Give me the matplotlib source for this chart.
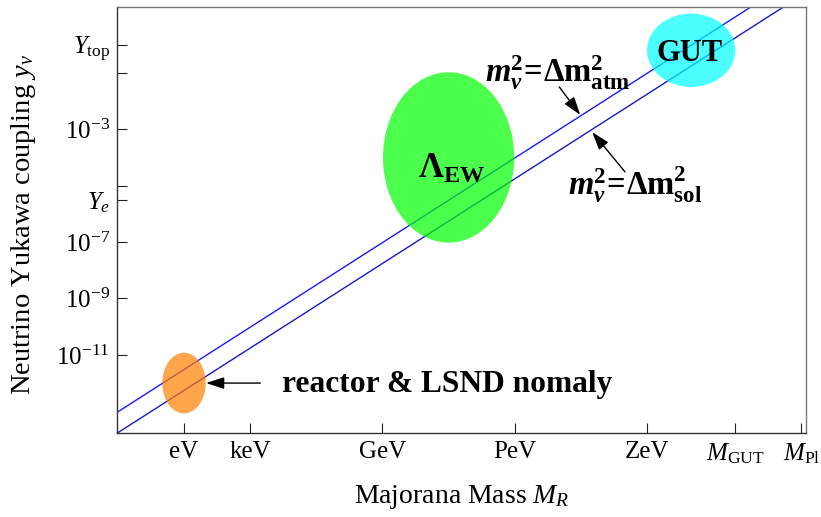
import matplotlib
matplotlib.use("Agg")
import matplotlib.pyplot as plt
from matplotlib.patches import Ellipse

plt.rcParams.update({
    "font.family": ["Liberation Serif", "DejaVu Serif"],
    "mathtext.fontset": "custom",
    "mathtext.rm": "Liberation Serif",
    "mathtext.it": "Liberation Serif:italic",
    "mathtext.bf": "Liberation Serif:bold",
    "mathtext.bfit": "Liberation Serif:italic:bold",
})

# ---- data (log10 units: mass in eV, dimensionless Yukawa) ----
line_logM = [-3.04, 28.21]
atm_logy = [-13.04, 2.585]
sol_logy = [-13.78, 1.845]

blob_names = ["reactor", "EW", "GUT"]
blob_logM = [0.0, 12.0, 23.0]
blob_logy = [-12.0, -4.0, -0.2]
blob_width = [1.97, 5.95, 4.0]
blob_height = [2.15, 6.04, 2.6]
blob_colors = ["#ff8000", "#00ff00", "#00ffff"]

xtick_pos = [0, 3, 9, 15, 21, 25, 28]
xtick_labels = ["eV", "keV", "GeV", "PeV", "ZeV", r"$M_{\mathrm{GUT}}$", r"$M_{\mathrm{Pl}}$"]
ytick_pos = [0, -1, -3, -5, -5.52, -7, -9, -11]
ytick_labels = [r"$Y_{\mathrm{top}}$", "", r"$10^{-3}$", "", r"$Y_e$",
                r"$10^{-7}$", r"$10^{-9}$", r"$10^{-11}$"]

fig = plt.figure(figsize=(8.21, 5.17), dpi=100)
ax = fig.add_axes([0.1425, 0.1625, 0.8392, 0.824])

ax.plot(line_logM, atm_logy, color="#1a1aff", lw=1.0, zorder=1)
ax.plot(line_logM, sol_logy, color="#1818c8", lw=1.0, zorder=1)

for x, y, w, h, c in zip(blob_logM, blob_logy, blob_width, blob_height, blob_colors):
    ax.add_patch(Ellipse((x, y), w, h, facecolor=c, edgecolor="none", alpha=0.7, zorder=2))

ax.set_xlim(-3.04, 28.21)
ax.set_ylim(-13.77, 1.335)
ax.set_xticks(xtick_pos)
ax.set_xticklabels(xtick_labels)
ax.set_yticks(ytick_pos)
ax.set_yticklabels(ytick_labels)
ax.tick_params(direction="in", length=7, width=0.8, labelsize=18, colors="#222222")
ax.tick_params(axis="x", pad=6)
ax.tick_params(axis="y", pad=5)
for lab in ax.get_xticklabels() + ax.get_yticklabels():
    lab.set_color("black")

for s in ["left", "bottom"]:
    ax.spines[s].set_color("#333333")
for s in ["top", "right"]:
    ax.spines[s].set_color("#777777")
for s in ax.spines.values():
    s.set_linewidth(1.0)

ax.set_xlabel(r"Majorana Mass $M_R$", fontsize=20)
ax.set_ylabel(r"Neutrino Yukawa coupling $y_\nu$", fontsize=20.5)
ax.xaxis.set_label_coords(0.5, -0.118)
ax.yaxis.set_label_coords(-0.115, 0.49)

arrow = dict(arrowstyle="-|>,head_length=0.55,head_width=0.18", lw=1.0, color="black",
             mutation_scale=20, shrinkA=0, shrinkB=0)

ax.text(4.45, -12.31, "reactor & LSND nomaly", fontsize=22.7, fontweight="bold", zorder=5)
ax.annotate("", xy=(1.0, -12.0), xytext=(3.46, -12.0), arrowprops=arrow, zorder=5)

ax.text(10.62, -4.73, r"$\mathbf{\Lambda}_{\mathbf{EW}}$", fontsize=25, zorder=5)
ax.text(21.45, -0.58, "GUT", fontsize=22, fontweight="bold", zorder=5)

ax.text(13.66, -1.32,
        r"$\mathbfit{m}_{\mathbfit{\nu}}^{\mathbf{2}}\!\mathbf{=}\!\mathbf{\Delta m}^{\mathbf{2}}_{\mathbf{atm}}$",
        fontsize=23.5, zorder=5)
ax.annotate("", xy=(17.97, -2.49), xytext=(17.02, -1.50), arrowprops=arrow, zorder=5)

ax.text(17.42, -5.33,
        r"$\mathbfit{m}_{\mathbfit{\nu}}^{\mathbf{2}}\!\mathbf{=}\!\mathbf{\Delta m}^{\mathbf{2}}_{\mathbf{sol}}$",
        fontsize=23.5, zorder=5)
ax.annotate("", xy=(18.51, -3.10), xytext=(20.0, -4.51), arrowprops=arrow, zorder=5)

fig.savefig("out.png", dpi=100)
